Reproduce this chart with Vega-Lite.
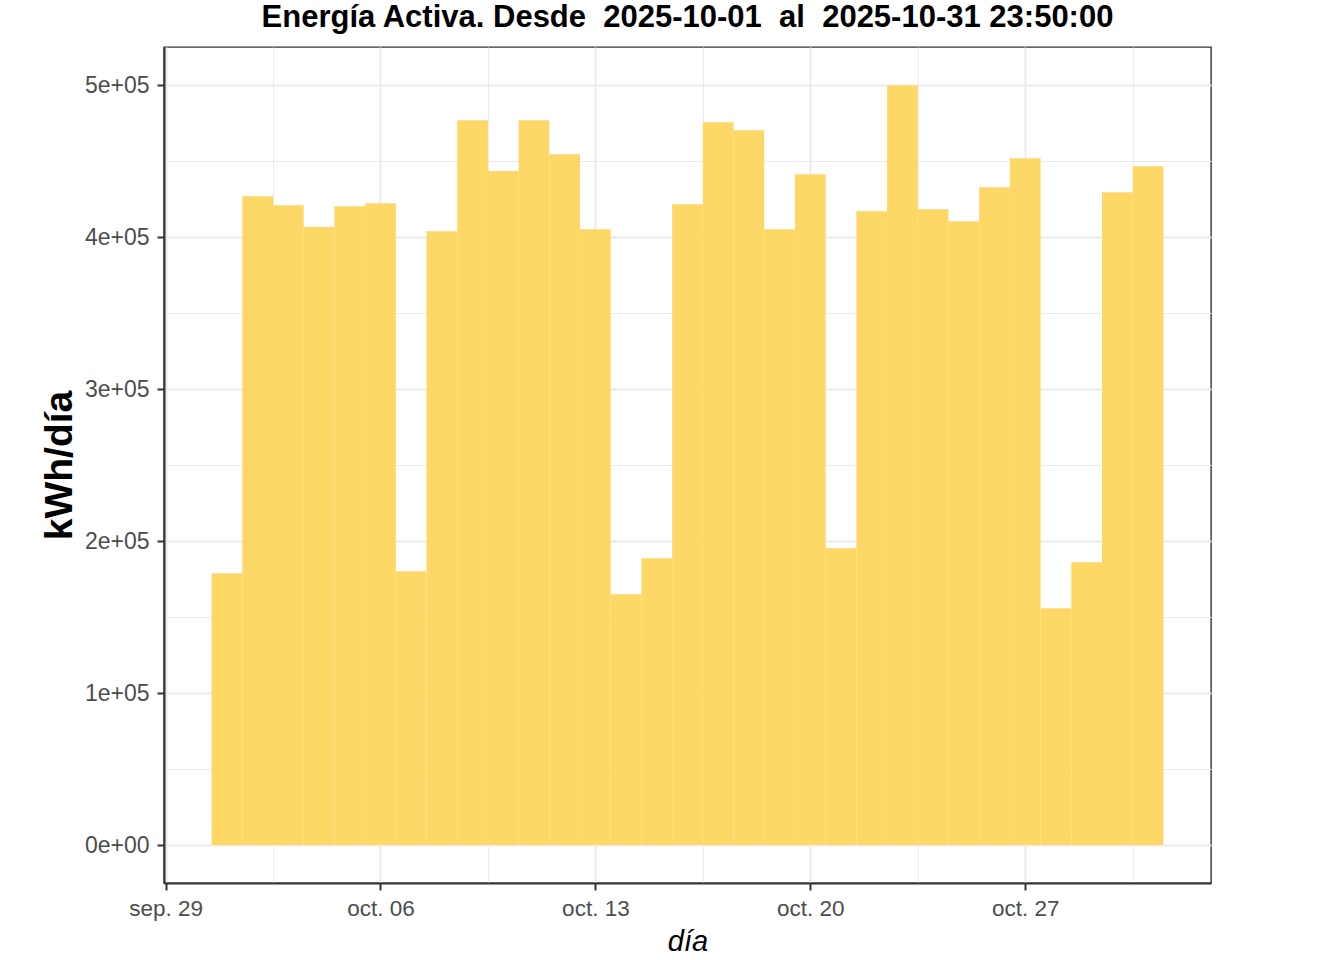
{
  "$schema": "https://vega.github.io/schema/vega-lite/v6.json",
  "width": 1047,
  "height": 836,
  "autosize": "none",
  "padding": {"left": 164, "top": 47, "right": 133, "bottom": 77},
  "background": "white",
  "config": {
    "font": "Liberation Sans",
    "view": {"stroke": "#333333", "strokeWidth": 1.4}
  },
  "title": {
    "text": "Energía Activa. Desde \u00a02025-10-01 \u00a0al \u00a02025-10-31 23:50:00",
    "font": "Liberation Sans",
    "fontSize": 31,
    "fontWeight": "bold",
    "color": "#000000",
    "anchor": "middle",
    "baseline": "alphabetic",
    "offset": 20,
    "dy": 31
  },
  "data": {
    "values": [
      {"dia": "2025-10-01", "kwh": 178800},
      {"dia": "2025-10-02", "kwh": 426800},
      {"dia": "2025-10-03", "kwh": 420900},
      {"dia": "2025-10-04", "kwh": 406600},
      {"dia": "2025-10-05", "kwh": 420200},
      {"dia": "2025-10-06", "kwh": 422200},
      {"dia": "2025-10-07", "kwh": 180100},
      {"dia": "2025-10-08", "kwh": 403800},
      {"dia": "2025-10-09", "kwh": 476800},
      {"dia": "2025-10-10", "kwh": 443400},
      {"dia": "2025-10-11", "kwh": 476800},
      {"dia": "2025-10-12", "kwh": 454400},
      {"dia": "2025-10-13", "kwh": 405100},
      {"dia": "2025-10-14", "kwh": 164900},
      {"dia": "2025-10-15", "kwh": 188600},
      {"dia": "2025-10-16", "kwh": 421500},
      {"dia": "2025-10-17", "kwh": 475500},
      {"dia": "2025-10-18", "kwh": 470200},
      {"dia": "2025-10-19", "kwh": 405100},
      {"dia": "2025-10-20", "kwh": 441300},
      {"dia": "2025-10-21", "kwh": 195200},
      {"dia": "2025-10-22", "kwh": 416900},
      {"dia": "2025-10-23", "kwh": 499800},
      {"dia": "2025-10-24", "kwh": 418200},
      {"dia": "2025-10-25", "kwh": 410300},
      {"dia": "2025-10-26", "kwh": 432700},
      {"dia": "2025-10-27", "kwh": 451800},
      {"dia": "2025-10-28", "kwh": 155700},
      {"dia": "2025-10-29", "kwh": 186000},
      {"dia": "2025-10-30", "kwh": 429400},
      {"dia": "2025-10-31", "kwh": 446500}
    ]
  },
  "mark": {"type": "bar", "size": 30.7, "color": "#FDD867"},
  "encoding": {
    "x": {
      "field": "dia",
      "type": "temporal",
      "title": "día",
      "scale": {
        "type": "utc",
        "nice": false,
        "padding": 0,
        "domain": [1759099680000, 1762045920000]
      },
      "axis": {
        "values": [1759104000000, 1759406400000, 1759708800000, 1760011200000, 1760313600000, 1760616000000, 1760918400000, 1761220800000, 1761523200000, 1761825600000],
        "labelExpr": "utchours(datum.value) == 12 ? '' : (['ene.','feb.','mar.','abr.','may.','jun.','jul.','ago.','sep.','oct.','nov.','dic.'][utcmonth(datum.value)] + ' ' + utcFormat(datum.value, '%d'))",
        "labelOverlap": false,
        "labelFlush": false,
        "labelBound": false,
        "labelFont": "Liberation Sans",
        "labelFontSize": 22.5,
        "labelColor": "#4D4D4D",
        "labelPadding": 7,
        "grid": true,
        "gridColor": "#EBEBEB",
        "gridWidth": {"condition": {"test": "utchours(datum.value) == 12", "value": 1}, "value": 2},
        "tickColor": "#333333",
        "tickWidth": 2,
        "tickSize": 7,
        "tickOpacity": {"condition": {"test": "utchours(datum.value) == 12", "value": 0}, "value": 1},
        "domainColor": "#333333",
        "domainWidth": 2,
        "titleFont": "Liberation Sans",
        "titleFontSize": 29,
        "titleFontStyle": "italic",
        "titleFontWeight": "normal",
        "titleColor": "#000000",
        "titleBaseline": "alphabetic",
        "titleY": 67
      }
    },
    "y": {
      "field": "kwh",
      "type": "quantitative",
      "title": "kWh/día",
      "scale": {"domain": [-25000, 525000], "nice": false, "zero": false},
      "axis": {
        "values": [0, 50000, 100000, 150000, 200000, 250000, 300000, 350000, 400000, 450000, 500000],
        "labelExpr": "datum.value % 100000 != 0 ? '' : (datum.value == 0 ? '0e+00' : (datum.value / 100000) + 'e+05')",
        "labelOverlap": false,
        "labelFlush": false,
        "labelBound": false,
        "labelFont": "Liberation Sans",
        "labelFontSize": 23,
        "labelColor": "#4D4D4D",
        "labelPadding": 8,
        "grid": true,
        "gridColor": "#EBEBEB",
        "gridWidth": {"condition": {"test": "datum.value % 100000 != 0", "value": 1}, "value": 2},
        "tickColor": "#333333",
        "tickWidth": 2,
        "tickSize": 7,
        "tickOpacity": {"condition": {"test": "datum.value % 100000 != 0", "value": 0}, "value": 1},
        "domainColor": "#333333",
        "domainWidth": 2,
        "titleFont": "Liberation Sans",
        "titleFontSize": 39,
        "titleFontWeight": "bold",
        "titleColor": "#000000",
        "titleAngle": -90,
        "titleBaseline": "alphabetic",
        "titleAlign": "center",
        "titleX": -93,
        "titleY": 418
      }
    }
  }
}
